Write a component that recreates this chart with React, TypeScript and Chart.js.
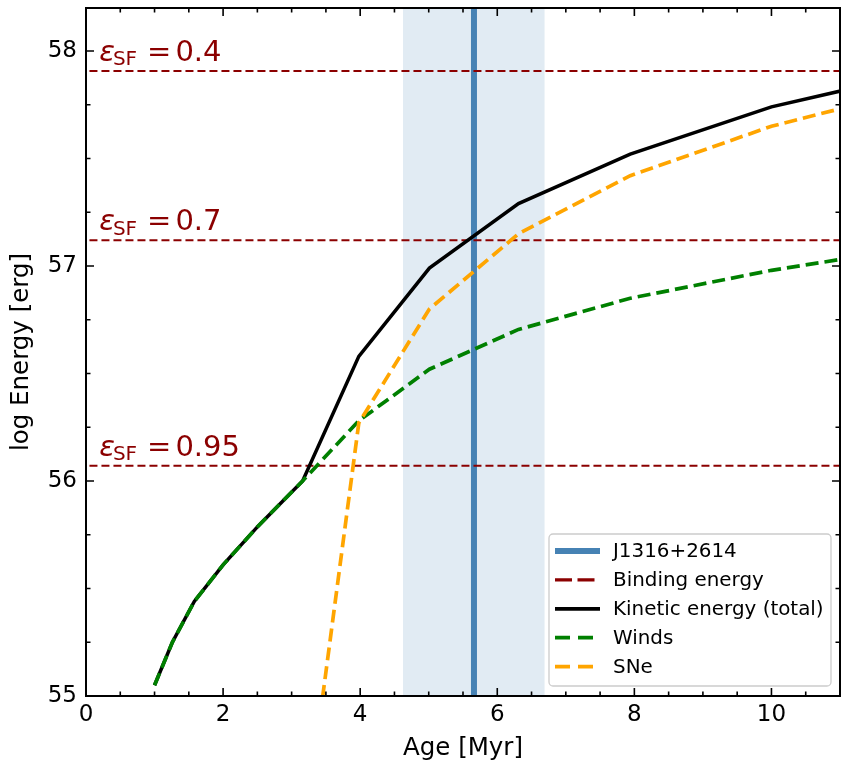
import React, { useEffect, useRef } from 'react';
import { Chart, registerables } from 'chart.js';

Chart.register(...registerables);

// ---- data ----
const AGES = [1.0, 1.26, 1.58, 2.0, 2.51, 3.16, 3.98, 5.01, 6.31, 7.94, 10.0, 12.59];
const KINETIC_TOTAL = [55.05, 55.25, 55.44, 55.61, 55.79, 56.0, 56.58, 56.99, 57.29, 57.52, 57.74, 57.93];
const WINDS = [55.05, 55.25, 55.44, 55.61, 55.79, 56.0, 56.28, 56.52, 56.705, 56.85, 56.98, 57.11];
const SNE: (number | null)[] = [null, null, null, null, null, 54.29, 56.27, 56.8, 57.15, 57.42, 57.65, 57.86];

const J1316_AGE = 5.66;
const J1316_AGE_RANGE = [4.625, 6.69];
const BINDING_ENERGIES = [57.907, 57.12, 56.071];
const EFFICIENCY_LABELS = ['0.4', '0.7', '0.95'];

const X_RANGE = [0, 11];
const Y_RANGE = [55, 58.2];
const X_MAJOR_TICKS = [0, 2, 4, 6, 8, 10];
const Y_MAJOR_TICKS = [55, 56, 57, 58];
const X_MINOR_STEP = 0.5;
const Y_MINOR_STEP = 0.25;

const LEGEND_LABELS = ['J1316+2614', 'Binding energy', 'Kinetic energy (total)', 'Winds', 'SNe'];

const FONT = "'DejaVu Sans', sans-serif";
const DARKRED = '#8B0000';

const toPoints = (ys: (number | null)[]) =>
  AGES.map((x, i) => ({ x, y: ys[i] })).filter((p) => p.y !== null) as { x: number; y: number }[];

// legend handle styles (dataset index, width, dash)
const LEGEND_HANDLES: { ds: number; width: number; dash: number[] }[] = [
  { ds: 0, width: 6, dash: [] },
  { ds: 1, width: 3.2, dash: [17, 5.5] },
  { ds: 4, width: 3.8, dash: [] },
  { ds: 5, width: 3.8, dash: [15, 8] },
  { ds: 6, width: 3.8, dash: [15, 8] },
];

const decorPlugin = {
  id: 'decor',
  beforeDatasetsDraw(chart: any) {
    const { ctx, chartArea, scales } = chart;
    const x1 = scales.x.getPixelForValue(J1316_AGE_RANGE[0]);
    const x2 = scales.x.getPixelForValue(J1316_AGE_RANGE[1]);
    ctx.save();
    ctx.fillStyle = 'rgba(70,130,180,0.16)';
    ctx.fillRect(x1, chartArea.top, x2 - x1, chartArea.bottom - chartArea.top);
    ctx.restore();
  },
  afterDatasetsDraw(chart: any) {
    const { ctx, chartArea, scales } = chart;
    const { left, right, top, bottom } = chartArea;
    const xs = scales.x;
    const ys = scales.y;
    ctx.save();
    // frame
    ctx.strokeStyle = '#000';
    ctx.lineWidth = 2;
    ctx.strokeRect(left, top, right - left, bottom - top);

    // ticks
    ctx.lineWidth = 1.6;
    const majorLen = 8;
    const minorLen = 4.5;
    const drawX = (v: number, len: number) => {
      const p = xs.getPixelForValue(v);
      ctx.beginPath();
      ctx.moveTo(p, bottom);
      ctx.lineTo(p, bottom - len);
      ctx.moveTo(p, top);
      ctx.lineTo(p, top + len);
      ctx.stroke();
    };
    const drawY = (v: number, len: number) => {
      const p = ys.getPixelForValue(v);
      ctx.beginPath();
      ctx.moveTo(left, p);
      ctx.lineTo(left + len, p);
      ctx.moveTo(right, p);
      ctx.lineTo(right - len, p);
      ctx.stroke();
    };
    X_MAJOR_TICKS.forEach((v) => drawX(v, majorLen));
    for (let v = X_RANGE[0]; v <= X_RANGE[1] + 1e-9; v += X_MINOR_STEP) {
      if (!X_MAJOR_TICKS.some((m) => Math.abs(m - v) < 1e-6)) drawX(v, minorLen);
    }
    Y_MAJOR_TICKS.forEach((v) => drawY(v, majorLen));
    for (let v = Y_RANGE[0]; v <= Y_RANGE[1] + 1e-9; v += Y_MINOR_STEP) {
      if (!Y_MAJOR_TICKS.some((m) => Math.abs(m - v) < 1e-6)) drawY(v, minorLen);
    }

    // efficiency annotations
    ctx.fillStyle = DARKRED;
    ctx.textBaseline = 'alphabetic';
    ctx.textAlign = 'left';
    BINDING_ENERGIES.forEach((e, i) => {
      const x0 = xs.getPixelForValue(0.2) - 0.5;
      const base = ys.getPixelForValue(e) - 10;
      ctx.font = `italic 29px ${FONT}`;
      ctx.fillText('\u03B5', x0, base);
      const w1 = ctx.measureText('\u03B5').width;
      ctx.font = `20px ${FONT}`;
      const sx = x0 + w1 - 2;
      ctx.fillText('SF', sx, base + 4.5);
      const w2 = ctx.measureText('SF').width;
      ctx.font = `29px ${FONT}`;
      const ex = sx + w2 + 10;
      ctx.fillText('=', ex, base);
      const w3 = ctx.measureText('=').width;
      ctx.fillText(EFFICIENCY_LABELS[i], ex + w3 + 4, base);
    });

    // legend
    const lw = 282;
    const lh = 152;
    const lx = right - 9 - lw;
    const ly = bottom - 10 - lh;
    ctx.beginPath();
    ctx.roundRect(lx, ly, lw, lh, 4);
    ctx.fillStyle = 'rgba(255,255,255,0.8)';
    ctx.fill();
    ctx.strokeStyle = '#cccccc';
    ctx.lineWidth = 1.3;
    ctx.stroke();
    ctx.font = `19.9px ${FONT}`;
    ctx.textBaseline = 'middle';
    LEGEND_HANDLES.forEach((h, i) => {
      const ds = chart.data.datasets[h.ds];
      const cy = ly + 17 + i * 28.9;
      ctx.beginPath();
      ctx.strokeStyle = ds.borderColor;
      ctx.lineWidth = h.width;
      ctx.setLineDash(h.dash);
      ctx.moveTo(lx + 6, cy);
      ctx.lineTo(lx + 51, cy);
      ctx.stroke();
      ctx.setLineDash([]);
      ctx.fillStyle = '#000';
      ctx.fillText(LEGEND_LABELS[i], lx + 64, cy + 1);
    });
    ctx.restore();
  },
};

export default function App() {
  const ref = useRef<HTMLCanvasElement | null>(null);
  useEffect(() => {
    if (!ref.current) return;
    Chart.defaults.font.family = FONT;
    Chart.defaults.color = '#000';
    const bindingSets = BINDING_ENERGIES.map((e, i) => ({
      label: i === 0 ? LEGEND_LABELS[1] : '',
      data: [
        { x: X_RANGE[0] - 1, y: e },
        { x: X_RANGE[1] + 1, y: e },
      ],
      borderColor: DARKRED,
      borderWidth: 2,
      borderDash: [8, 4],
      order: 3,
    }));
    const chart = new Chart(ref.current, {
      type: 'line',
      data: {
        datasets: [
          {
            label: LEGEND_LABELS[0],
            data: [
              { x: J1316_AGE, y: Y_RANGE[0] - 1 },
              { x: J1316_AGE, y: Y_RANGE[1] + 1 },
            ],
            borderColor: '#4682B4',
            borderWidth: 6,
            order: 4,
          },
          ...bindingSets,
          {
            label: LEGEND_LABELS[2],
            data: toPoints(KINETIC_TOTAL),
            borderColor: '#000000',
            borderWidth: 3.5,
            order: 2,
          },
          {
            label: LEGEND_LABELS[3],
            data: toPoints(WINDS),
            borderColor: '#008000',
            borderWidth: 3.7,
            borderDash: [13, 6],
            order: 1,
          },
          {
            label: LEGEND_LABELS[4],
            data: toPoints(SNE),
            borderColor: '#FFA500',
            borderWidth: 3.7,
            borderDash: [13, 6],
            order: 0,
          },
        ] as any,
      },
      options: {
        responsive: false,
        animation: false,
        events: [],
        datasets: { line: { clip: 0 as any, pointRadius: 0, tension: 0, fill: false } } as any,
        layout: { padding: { top: 8, right: 1, left: 0, bottom: 0 } },
        plugins: { legend: { display: false }, tooltip: { enabled: false } },
        scales: {
          x: {
            type: 'linear',
            min: X_RANGE[0],
            max: X_RANGE[1],
            grid: { display: false, drawTicks: false },
            border: { display: false },
            ticks: {
              padding: 5.5,
              font: { size: 23 },
              color: '#000',
              maxRotation: 0,
              callback: (v: any) => String(v),
            },
            afterBuildTicks: (s: any) => {
              s.ticks = X_MAJOR_TICKS.map((value) => ({ value }));
            },
            afterFit: (s: any) => {
              s.height = 67;
              s.paddingLeft = 0;
              s.paddingRight = 0;
              s.paddingTop = 0;
              s.paddingBottom = 0;
            },
            title: {
              display: true,
              text: 'Age [Myr]',
              font: { size: 24.5 },
              color: '#000',
              padding: { top: 0, bottom: 0 },
            },
          },
          y: {
            type: 'linear',
            min: Y_RANGE[0],
            max: Y_RANGE[1],
            grid: { display: false, drawTicks: false },
            border: { display: false },
            ticks: {
              padding: 9,
              font: { size: 23 },
              color: '#000',
              callback: (v: any) => String(v),
            },
            afterBuildTicks: (s: any) => {
              s.ticks = Y_MAJOR_TICKS.map((value) => ({ value }));
            },
            afterFit: (s: any) => {
              s.width = 86;
              s.paddingLeft = 0;
              s.paddingRight = 0;
              s.paddingTop = 0;
              s.paddingBottom = 0;
            },
            title: {
              display: true,
              text: 'log Energy [erg]',
              font: { size: 24.5 },
              color: '#000',
              padding: { top: 7.4, bottom: 0 },
            },
          },
        },
      } as any,
      plugins: [decorPlugin],
    });
    return () => chart.destroy();
  }, []);
  return (
    <canvas
      ref={ref}
      width={841}
      height={763}
      style={{ position: 'absolute', left: 0, top: 0, display: 'block', width: 841, height: 763 }}
    />
  );
}
